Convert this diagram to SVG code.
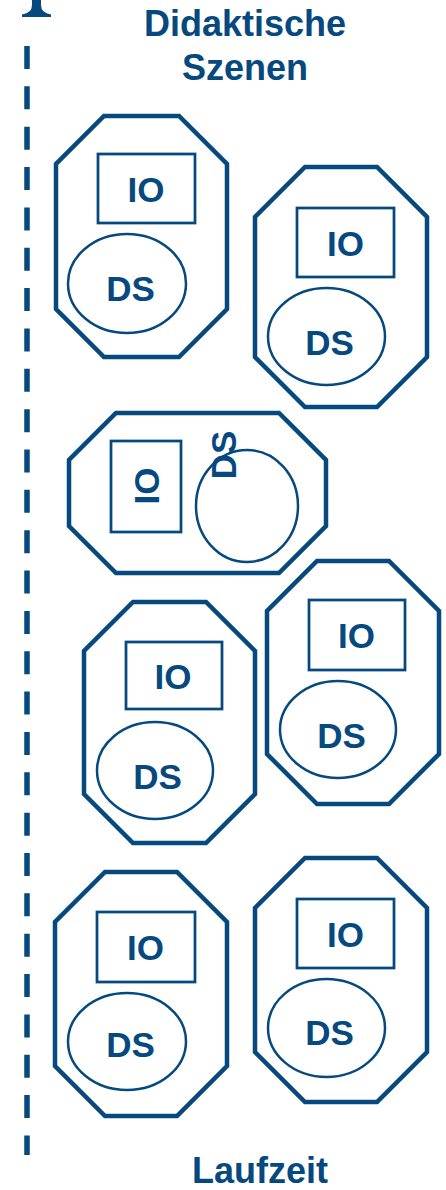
<svg xmlns="http://www.w3.org/2000/svg" width="446" height="1190" viewBox="0 0 446 1190">
<style>
.oct{fill:none;stroke:#06497f;stroke-width:4.5;stroke-linejoin:miter}
.io{fill:none;stroke:#06497f;stroke-width:2.75}
.ds{fill:none;stroke:#06497f;stroke-width:2.5}
.t{font-family:"Liberation Sans",Arial,sans-serif;font-weight:bold;font-size:35px;fill:#06497f;text-anchor:middle}
.h{font-family:"Liberation Sans",Arial,sans-serif;font-weight:bold;font-size:36px;fill:#06497f;text-anchor:middle}
</style>
<rect width="446" height="1190" fill="#fff"/>
<g id="axis">
<line x1="27" y1="46" x2="27" y2="1155" stroke="#06497f" stroke-width="5.5" stroke-dasharray="23 17.35"/>
<path d="M32,0 L32,5 Q32,13 22,14.5 L22,17 L51,17 L51,14.5 Q41,13 41,5 L41,0 Z" fill="#06497f"/>
</g>
<g id="labels">
<text class="h" x="245" y="36">Didaktische</text>
<text class="h" x="245" y="80">Szenen</text>
<text class="h" x="260" y="1183">Laufzeit</text>
</g>
<g id="node1">
<polygon class="oct" points="104,116 179,116 227,164 227,309 179,357 104,357 56,309 56,164"/>
<rect class="io" x="98" y="154" width="97" height="69"/>
<text class="t" x="146" y="202">IO</text>
<ellipse class="ds" cx="127" cy="283.5" rx="59" ry="49.5"/>
<text class="t" x="130.5" y="301">DS</text>
</g>
<g id="node2">
<polygon class="oct" points="305,167 377,167 427,217 427,357 377,407 305,407 255,357 255,217"/>
<rect class="io" x="297" y="208" width="97" height="69"/>
<text class="t" x="345.5" y="256">IO</text>
<ellipse class="ds" cx="326.5" cy="336.5" rx="58.5" ry="48.5"/>
<text class="t" x="329.5" y="355">DS</text>
</g>
<g id="node3">
<polygon class="oct" points="116,413 279,413 326,460 326,526 279,573 116,573 69,526 69,460"/>
<rect class="io" x="111" y="441" width="70" height="91"/>
<text class="t" transform="translate(159,486) rotate(-90)">IO</text>
<ellipse class="ds" cx="247" cy="506" rx="51" ry="56"/>
<text class="t" transform="translate(236,455) rotate(-90)">DS</text>
</g>
<g id="node4">
<polygon class="oct" points="133,602 206,602 255,651 255,794 206,843 133,843 84,794 84,651"/>
<rect class="io" x="126" y="642" width="96" height="67"/>
<text class="t" x="173" y="689">IO</text>
<ellipse class="ds" cx="155" cy="770.5" rx="58" ry="48.5"/>
<text class="t" x="157.5" y="789">DS</text>
</g>
<g id="node5">
<polygon class="oct" points="317,561 389,561 439,611 439,754 389,804 317,804 267,754 267,611"/>
<rect class="io" x="309" y="600" width="96" height="70"/>
<text class="t" x="356.5" y="648">IO</text>
<ellipse class="ds" cx="338" cy="729.5" rx="58" ry="48.5"/>
<text class="t" x="341.5" y="748">DS</text>
</g>
<g id="node6">
<polygon class="oct" points="105,872 177,872 227,922 227,1066 177,1116 105,1116 55,1066 55,922"/>
<rect class="io" x="97" y="912" width="98" height="70"/>
<text class="t" x="145.5" y="960">IO</text>
<ellipse class="ds" cx="127" cy="1041.5" rx="59" ry="48.5"/>
<text class="t" x="130.5" y="1057">DS</text>
</g>
<g id="node7">
<polygon class="oct" points="305,858 377,858 427,908 427,1052 377,1102 305,1102 255,1052 255,908"/>
<rect class="io" x="297" y="899" width="97" height="69"/>
<text class="t" x="345.5" y="947">IO</text>
<ellipse class="ds" cx="326.5" cy="1028" rx="58.5" ry="49"/>
<text class="t" x="329.5" y="1045">DS</text>
</g>
</svg>
